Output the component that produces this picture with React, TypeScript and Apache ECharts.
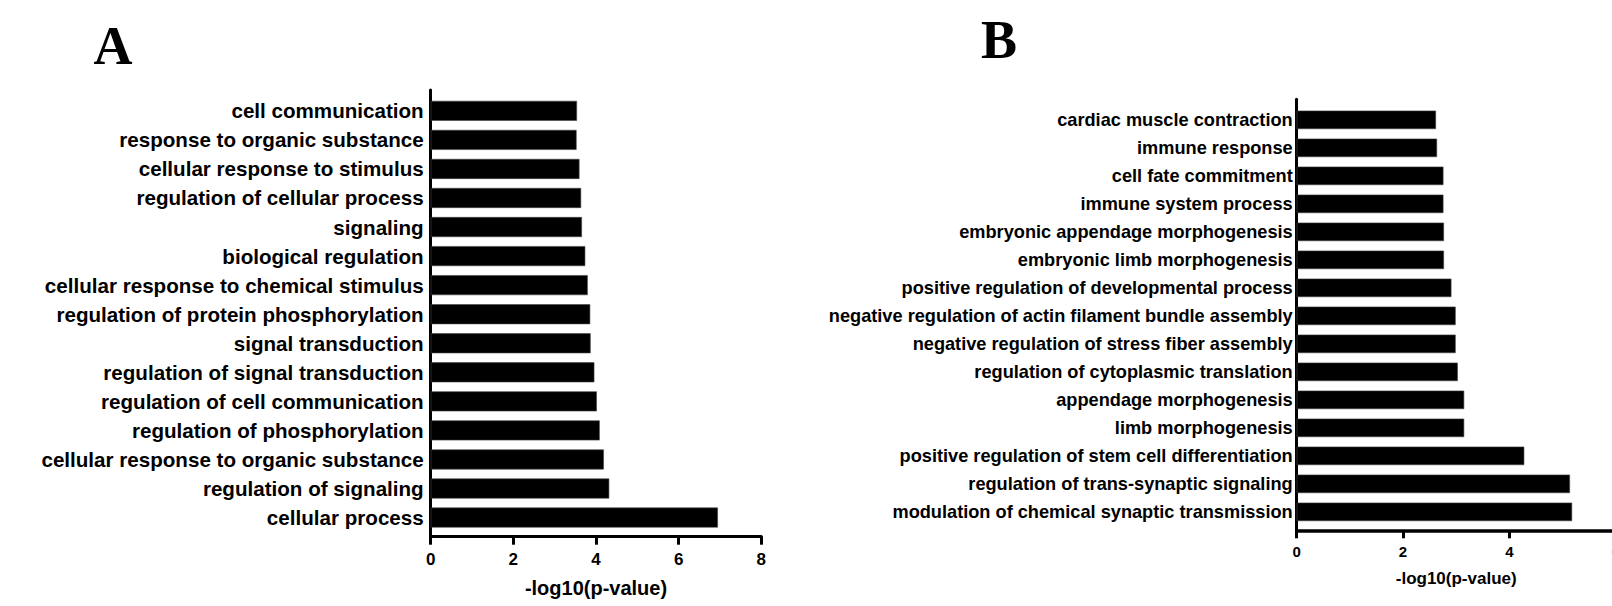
import React, { useEffect, useRef } from "react";
import * as echarts from "echarts";

const catsA = [
  "cell communication",
  "response to organic substance",
  "cellular response to stimulus",
  "regulation of cellular process",
  "signaling",
  "biological regulation",
  "cellular response to chemical stimulus",
  "regulation of protein phosphorylation",
  "signal transduction",
  "regulation of signal transduction",
  "regulation of cell communication",
  "regulation of phosphorylation",
  "cellular response to organic substance",
  "regulation of signaling",
  "cellular process",
];
const valsA = [3.54, 3.53, 3.6, 3.64, 3.66, 3.74, 3.8, 3.86, 3.87, 3.96, 4.02, 4.09, 4.19, 4.32, 6.95];

const catsB = [
  "cardiac muscle contraction",
  "immune response",
  "cell fate commitment",
  "immune system process",
  "embryonic appendage morphogenesis",
  "embryonic limb morphogenesis",
  "positive regulation of developmental process",
  "negative regulation of actin filament bundle assembly",
  "negative regulation of stress fiber assembly",
  "regulation of cytoplasmic translation",
  "appendage morphogenesis",
  "limb morphogenesis",
  "positive regulation of stem cell differentiation",
  "regulation of trans-synaptic signaling",
  "modulation of chemical synaptic transmission",
];
const valsB = [2.62, 2.64, 2.76, 2.76, 2.77, 2.77, 2.91, 2.99, 2.99, 3.03, 3.15, 3.15, 4.28, 5.14, 5.18];

const xMaxA = 8;
const xMaxB = 6;
const xStep = 2;
const axisTitle = "-log10(p-value)";
const panelLetters = ["A", "B"];

const SANS = "'Liberation Sans', Arial, sans-serif";
const SERIF = "'Liberation Serif', 'Times New Roman', serif";

export default function App() {
  const ref = useRef<HTMLDivElement>(null);
  useEffect(() => {
    if (!ref.current) return;
    const chart = echarts.init(ref.current, undefined, { renderer: "svg" });
    // Panel A geometry
    const aLeft = 430.7;
    const aWidth = 761.3 - 430.7;
    // Panel B geometry
    const bLeft = 1296.7;
    const bWidth = 1615.7 - 1296.7;

    const gridBase = { containLabel: false, outerBoundsMode: "none" };
    const axisLineStyle = { color: "#000", width: 3 };
    const option: any = {
      animation: false,
      backgroundColor: "#fff",
      grid: [
        { ...gridBase, left: aLeft, width: aWidth, top: 96.3, height: 532.1 - 96.3 },
        { ...gridBase, left: aLeft, width: aWidth, top: 90, height: 536.7 - 90 },
        { ...gridBase, left: bLeft, width: bWidth, top: 105.85, height: 525.85 - 105.85 },
        { ...gridBase, left: bLeft, width: bWidth, top: 99.3, height: 530.3 - 99.3 },
      ],
      xAxis: [
        { gridIndex: 0, type: "value", min: 0, max: xMaxA, show: false },
        {
          gridIndex: 1,
          type: "value",
          min: 0,
          max: xMaxA,
          interval: xStep,
          axisLine: { show: true, lineStyle: axisLineStyle },
          axisTick: { show: true, length: 8, lineStyle: { color: "#000", width: 3 } },
          axisLabel: { color: "#000", fontFamily: SANS, fontWeight: "bold", fontSize: 17, margin: 14 },
          splitLine: { show: false },
          name: axisTitle,
          nameLocation: "middle",
          nameGap: 41,
          nameTextStyle: { color: "#000", fontFamily: SANS, fontWeight: "bold", fontSize: 20 },
        },
        { gridIndex: 2, type: "value", min: 0, max: xMaxB, show: false },
        {
          gridIndex: 3,
          type: "value",
          min: 0,
          max: xMaxB,
          interval: xStep,
          axisLine: { show: true, lineStyle: { color: "#000", width: 3.5 } },
          axisTick: { show: true, length: 8, lineStyle: { color: "#000", width: 3 } },
          axisLabel: { color: "#000", fontFamily: SANS, fontWeight: "bold", fontSize: 15, margin: 14 },
          splitLine: { show: false },
          name: axisTitle,
          nameLocation: "middle",
          nameGap: 40,
          nameTextStyle: { color: "#000", fontFamily: SANS, fontWeight: "bold", fontSize: 17 },
        },
      ],
      yAxis: [
        {
          gridIndex: 0,
          type: "category",
          inverse: true,
          data: catsA,
          axisLine: { show: false },
          axisTick: { show: false },
          axisLabel: { interval: 0, color: "#000", fontFamily: SANS, fontWeight: "bold", fontSize: 20.6, margin: 7 },
        },
        {
          gridIndex: 1,
          type: "value",
          min: 0,
          max: 1,
          axisLine: { show: true, lineStyle: axisLineStyle },
          axisTick: { show: false },
          axisLabel: { show: false },
          splitLine: { show: false },
        },
        {
          gridIndex: 2,
          type: "category",
          inverse: true,
          data: catsB,
          axisLine: { show: false },
          axisTick: { show: false },
          axisLabel: { interval: 0, color: "#000", fontFamily: SANS, fontWeight: "bold", fontSize: 18.2, margin: 4 },
        },
        {
          gridIndex: 3,
          type: "value",
          min: 0,
          max: 1,
          axisLine: { show: true, lineStyle: axisLineStyle },
          axisTick: { show: false },
          axisLabel: { show: false },
          splitLine: { show: false },
        },
      ],
      series: [
        {
          type: "bar",
          xAxisIndex: 0,
          yAxisIndex: 0,
          data: valsA,
          barWidth: 20,
          itemStyle: { color: "#000", borderColor: "#444", borderWidth: 0.6 },
          z: 1,
        },
        {
          type: "bar",
          xAxisIndex: 2,
          yAxisIndex: 2,
          data: valsB,
          barWidth: 18.5,
          itemStyle: { color: "#000", borderColor: "#444", borderWidth: 0.6 },
          z: 1,
        },
      ],
      graphic: [
        {
          type: "text",
          x: 113,
          y: 46,
          style: {
            text: panelLetters[0],
            fill: "#000",
            font: `bold 54px ${SERIF}`,
            align: "center",
            verticalAlign: "middle",
          },
        },
        {
          type: "text",
          x: 999,
          y: 39.5,
          style: {
            text: panelLetters[1],
            fill: "#000",
            font: `bold 54px ${SERIF}`,
            align: "center",
            verticalAlign: "middle",
          },
        },
      ],
    };
    chart.setOption(option);
    return () => chart.dispose();
  }, []);
  return (
    <div
      ref={ref}
      style={{ position: "absolute", left: 0, top: 0, width: 1612, height: 606, background: "#fff" }}
    />
  );
}
